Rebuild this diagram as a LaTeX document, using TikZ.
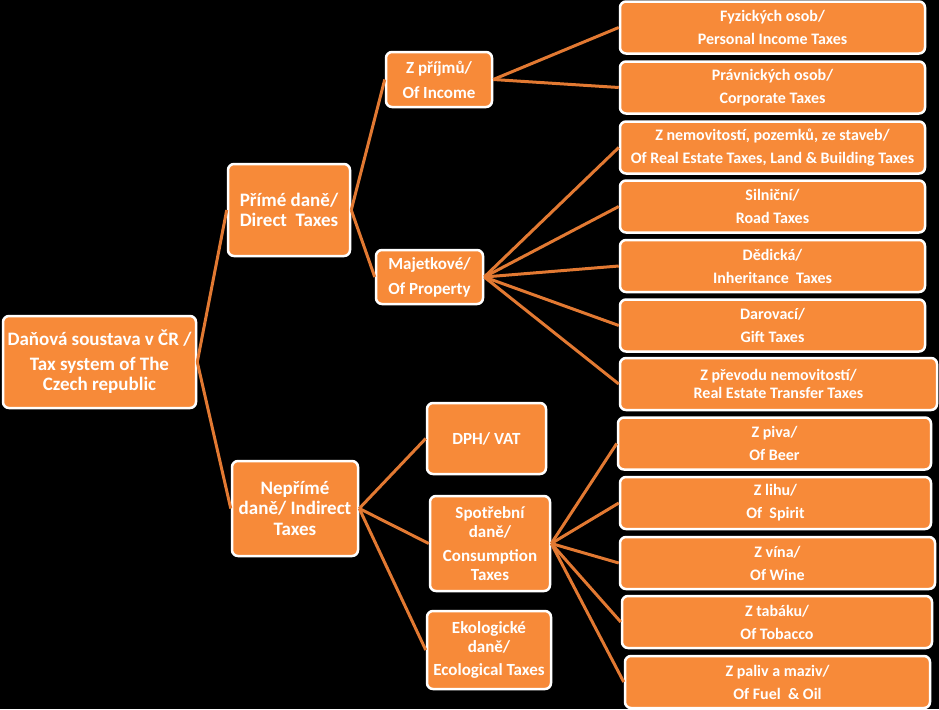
\documentclass[tikz,border=0pt]{standalone}
\usepackage{fontspec}
\setmainfont{Carlito}
\usepackage{tikz}
\usetikzlibrary{positioning}
\definecolor{boxOrange}{RGB}{247,138,57}
\definecolor{lineOrange}{RGB}{226,121,50}
\begin{document}
\begin{tikzpicture}[x=1pt,y=-1pt]
    \tikzstyle{every node} = [font=\bfseries, text=white]
    \tikzstyle{block} = [draw=white, line width=2.5pt, rectangle, fill=boxOrange, rounded corners=6pt, align=center, inner sep=1pt]
    \tikzstyle{leaf} = [block, minimum width=305pt, minimum height=52pt, font=\bfseries\fontsize{16}{19}\selectfont]
    \tikzstyle{conn} = [draw=lineOrange, line width=3pt]
    % background
    \fill[black] (0,0) rectangle (939,709);
    % place nodes
    \node[block, minimum width=193pt, minimum height=92pt, font=\bfseries\fontsize{19}{20.5}\selectfont] (taxSystem) at (99.5,362)
      {Daňová soustava v ČR /\\[4pt]Tax system of The\\Czech republic};
    \node[block, minimum width=122pt, minimum height=92pt, font=\bfseries\fontsize{19}{20.5}\selectfont] (directTaxes) at (289,210)
      {Přímé daně/\\Direct\ \ Taxes};
    \node[block, minimum width=126pt, minimum height=95pt, font=\bfseries\fontsize{19}{20.5}\selectfont] (indirectTaxes) at (295,508.5)
      {Nepřímé\\daně/ Indirect\\Taxes};
    \node[block, minimum width=106pt, minimum height=55pt, font=\bfseries\fontsize{17}{19}\selectfont] (incomeTaxes) at (439,79.5)
      {Z příjmů/\\[6pt]Of Income};
    \node[block, minimum width=107pt, minimum height=54pt, font=\bfseries\fontsize{17}{19}\selectfont] (propertyTaxes) at (429.5,277)
      {Majetkové/\\[6pt]Of Property};
    \node[block, minimum width=119pt, minimum height=71pt, font=\bfseries\fontsize{17}{19}\selectfont] (vatTaxes) at (486.5,438.5)
      {DPH/ VAT};
    \node[block, minimum width=120pt, minimum height=95pt, font=\bfseries\fontsize{17}{18.5}\selectfont] (consumptionTaxes) at (490,543.5)
      {Spotřební\\daně/\\[6pt]Consumption\\Taxes};
    \node[block, minimum width=124pt, minimum height=78pt, font=\bfseries\fontsize{17}{18.5}\selectfont] (ecoTaxes) at (489,650)
      {Ekologické\\daně/\\[5pt]Ecological Taxes};
    % leaves
    \node[leaf] (personalTaxes) at (772.5,27.5) {Fyzických osob/\\[4pt]Personal Income Taxes};
    \node[leaf] (corporateTaxes) at (772.5,87.5) {Právnických osob/\\[4pt]Corporate Taxes};
    \node[leaf] (realEstateTaxes) at (772.5,147.5) {Z nemovitostí, pozemků, ze staveb/\\[4pt]Of Real Estate Taxes, Land \& Building Taxes};
    \node[leaf] (roadTaxes) at (772.5,206.5) {Silniční/\\[4pt]Road Taxes};
    \node[leaf] (inheritanceTaxes) at (772.5,266) {Dědická/\\[4pt]Inheritance\ \ Taxes};
    \node[leaf] (giftTaxes) at (772.5,325.5) {Darovací/\\[4pt]Gift Taxes};
    \node[leaf, minimum width=317pt] (transferTaxes) at (778.5,384) {Z převodu nemovitostí/\\[-1pt]Real Estate Transfer Taxes};
    \node[leaf, minimum width=313pt] (beerTaxes) at (774.5,443.5) {Z piva/\\[4pt]Of Beer};
    \node[leaf, minimum width=311pt] (spiritTaxes) at (775.5,503) {Z lihu/\\[4pt]Of\ \ Spirit};
    \node[leaf, minimum width=315pt] (wineTaxes) at (777.5,563) {Z vína/\\[4pt]Of Wine};
    \node[leaf, minimum width=310pt] (tobaccoTaxes) at (777,622) {Z tabáku/\\[4pt]Of Tobacco};
    \node[leaf] (fuelTaxes) at (777.5,682) {Z paliv a maziv/\\[4pt]Of Fuel\ \ \& Oil};
    % Connections
    \draw[conn] (taxSystem.east)--(directTaxes.west);
    \draw[conn] (taxSystem.east)--(indirectTaxes.west);
    \draw[conn] (directTaxes.east)--(incomeTaxes.west);
    \draw[conn] (directTaxes.east)--(propertyTaxes.west);
    \draw[conn] (incomeTaxes.east)--(personalTaxes.west);
    \draw[conn] (incomeTaxes.east)--(corporateTaxes.west);
    \draw[conn] (propertyTaxes.east)--(realEstateTaxes.west);
    \draw[conn] (propertyTaxes.east)--(roadTaxes.west);
    \draw[conn] (propertyTaxes.east)--(inheritanceTaxes.west);
    \draw[conn] (propertyTaxes.east)--(giftTaxes.west);
    \draw[conn] (propertyTaxes.east)--(transferTaxes.west);
    \draw[conn] (indirectTaxes.east)--(vatTaxes.west);
    \draw[conn] (indirectTaxes.east)--(consumptionTaxes.west);
    \draw[conn] (indirectTaxes.east)--(ecoTaxes.west);
    \draw[conn] (consumptionTaxes.east)--(beerTaxes.west);
    \draw[conn] (consumptionTaxes.east)--(spiritTaxes.west);
    \draw[conn] (consumptionTaxes.east)--(wineTaxes.west);
    \draw[conn] (consumptionTaxes.east)--(tobaccoTaxes.west);
    \draw[conn] (consumptionTaxes.east)--(fuelTaxes.west);
  \end{tikzpicture}
\end{document}
